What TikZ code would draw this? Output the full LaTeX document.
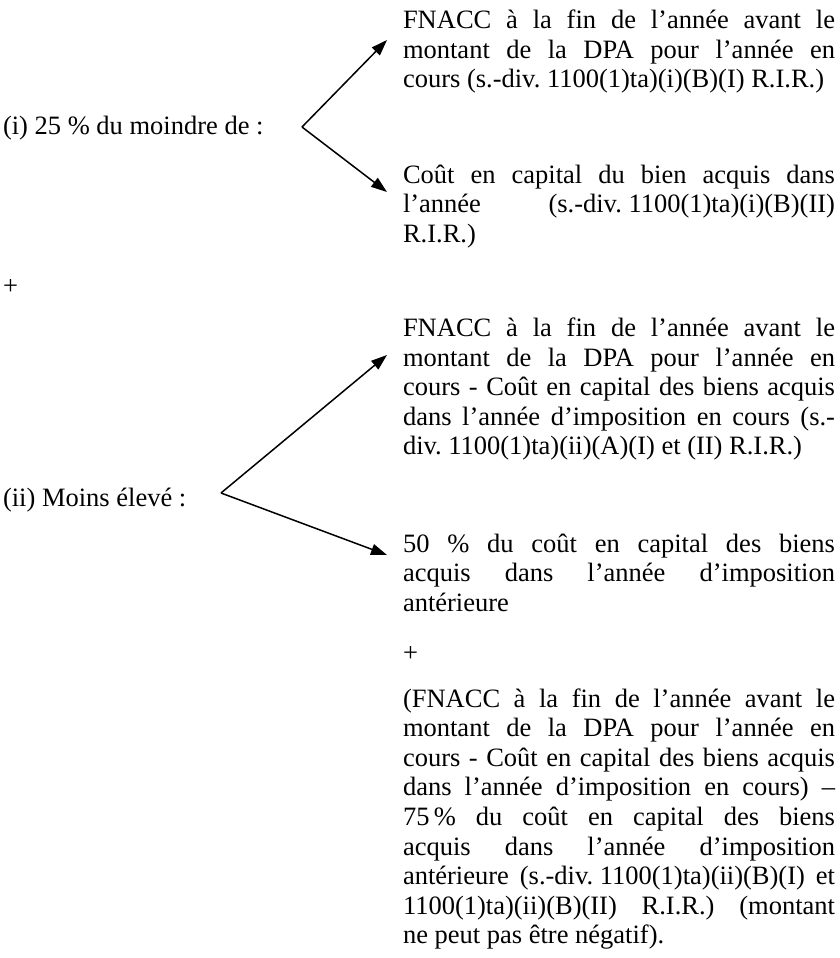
\documentclass[tikz,border=0pt]{standalone}
\usepackage{fontspec}
\setmainfont{Liberation Serif}
\usetikzlibrary{arrows.meta}
\tolerance=10000
\hyphenpenalty=10000
\exhyphenpenalty=10000
\frenchspacing
\newcommand\fixsp{\hspace{0.25em}}
\tikzset{
  blocktext/.style={anchor=base west, inner sep=0pt, outer sep=0pt, text width=432pt, align=justify,
    font=\fontsize{26.5}{29.6}\selectfont},
  label/.style={anchor=base west, inner sep=0pt, outer sep=0pt, font=\fontsize{26.5}{29.6}\selectfont},
  arr/.style={line width=1.5pt, -{Triangle[length=16pt,width=11pt]}}
}
\begin{document}
\begin{tikzpicture}[x=1pt,y=-1pt]
\useasboundingbox (0,0) rectangle (839,958);
% left labels
\node[label] (li) at (3,134) {(i) 25 \% du moindre de :};
\node[label] (plusA) at (3,294) {+};
\node[label] (lii) at (3,506) {(ii) Moins élevé :};
% right blocks
\node[blocktext] (bA) at (403,28.5) {FNACC à la fin de l’année avant le\linebreak montant de la DPA pour l’année en\linebreak cours (s.-div.\fixsp 1100(1)ta)(i)(B)(I)\fixsp R.I.R.)};
\node[blocktext] (bB) at (403,183) {Coût en capital du bien acquis dans\linebreak l’année (s.-div.\fixsp 1100(1)ta)(i)(B)(II)\linebreak R.I.R.)};
\node[blocktext] (bC) at (403,336.5) {FNACC à la fin de l’année avant le\linebreak montant de la DPA pour l’année en\linebreak cours - Coût en capital des biens acquis\linebreak dans l’année d’imposition en cours (s.-\linebreak div.\fixsp 1100(1)ta)(ii)(A)(I) et (II) R.I.R.)};
\node[blocktext] (bD) at (403,552) {50 \% du coût en capital des biens\linebreak acquis dans l’année d’imposition\linebreak antérieure};
\node[label] (plusB) at (403,661) {+};
\node[blocktext] (bE) at (403,707) {(FNACC à la fin de l’année avant le\linebreak montant de la DPA pour l’année en\linebreak cours - Coût en capital des biens acquis\linebreak dans l’année d’imposition en cours) –\linebreak 75\,\% du coût en capital des biens\linebreak acquis dans l’année d’imposition\linebreak antérieure (s.-div.\fixsp 1100(1)ta)(ii)(B)(I) et\linebreak 1100(1)ta)(ii)(B)(II) R.I.R.) (montant\linebreak ne peut pas être négatif).};
% arrows
\coordinate (v1) at (302,127);
\coordinate (t1a) at (387,40);
\coordinate (t1b) at (387,192);
\coordinate (v2) at (221,493);
\coordinate (t2a) at (387,355);
\coordinate (t2b) at (387,555);
\draw[arr] (v1) -- (t1a);
\draw[arr] (v1) -- (t1b);
\draw[arr] (v2) -- (t2a);
\draw[arr] (v2) -- (t2b);
\end{tikzpicture}
\end{document}
